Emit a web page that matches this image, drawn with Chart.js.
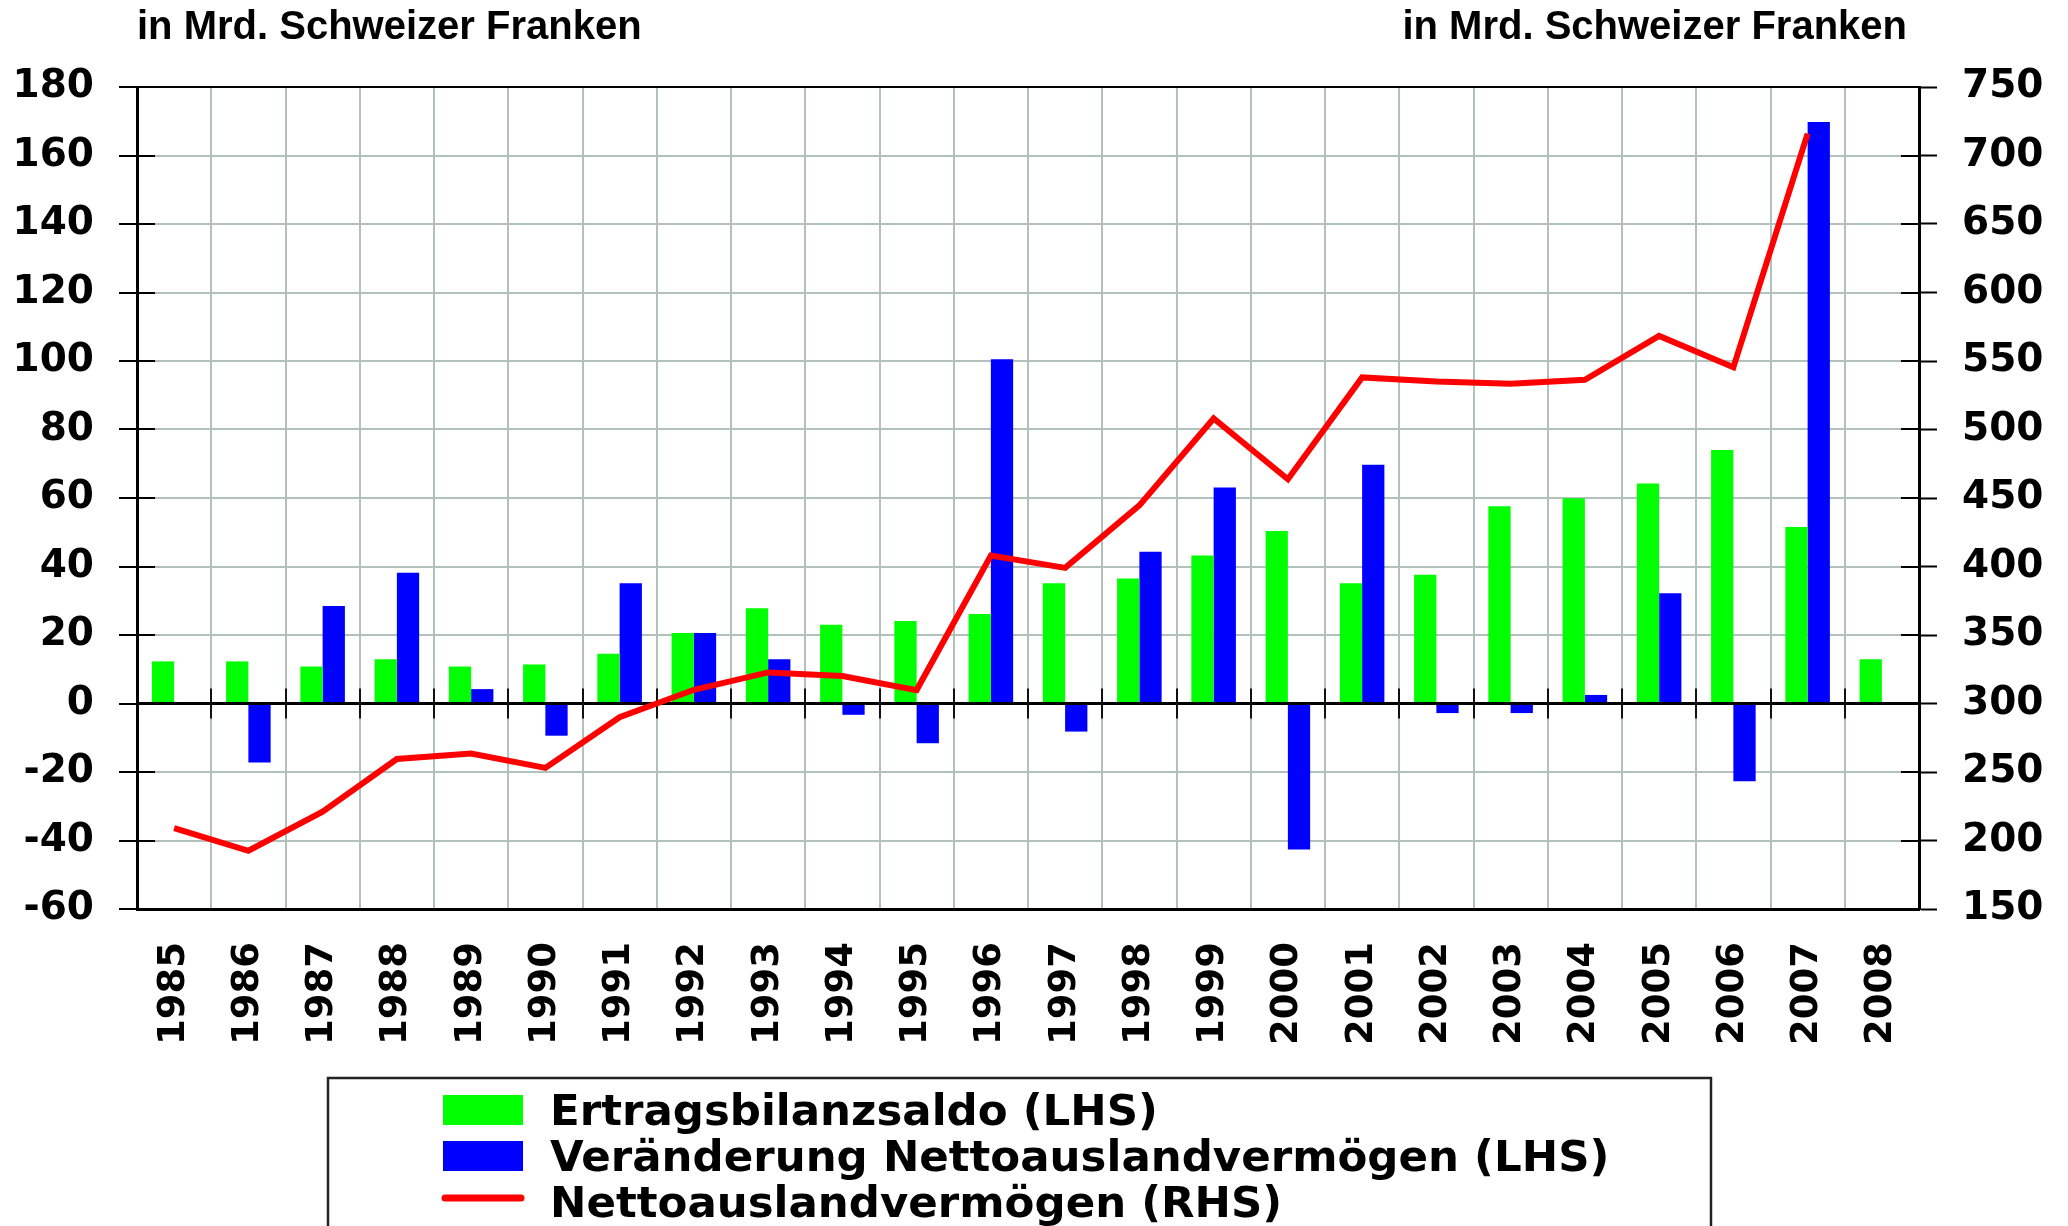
<!DOCTYPE html>
<html>
<head>
<meta charset="utf-8">
<script src="https://cdn.jsdelivr.net/npm/chart.js@4.4.1/dist/chart.umd.min.js"></script>
<style>
  body { margin: 0; background: #fff; }
  #wrap { width: 2068px; height: 1226px; position: relative; }
</style>
</head>
<body>
<div id="wrap"><canvas id="chart"></canvas></div>
<script>
// years on the x axis
const years = ['1985', '1986', '1987', '1988', '1989', '1990', '1991', '1992', '1993', '1994', '1995', '1996',
               '1997', '1998', '1999', '2000', '2001', '2002', '2003', '2004', '2005', '2006', '2007', '2008'];

// Ertragsbilanzsaldo, Mrd. CHF (left axis)
const ertragsbilanz = [12.3, 12.3, 10.8, 12.9, 10.8, 11.4, 14.5, 20.6, 27.8, 23.0, 24.1, 26.1,
                       35.1, 36.5, 43.2, 50.4, 35.1, 37.6, 57.6, 59.9, 64.2, 74.0, 51.5, 12.9];

// Veränderung Nettoauslandvermögen, Mrd. CHF (left axis)
const veraenderung = [null, -17.2, 28.5, 38.2, 4.2, -9.4, 35.1, 20.6, 12.9, -3.3, -11.6, 100.5,
                      -8.2, 44.3, 63.1, -42.6, 69.7, -2.8, -2.8, 2.5, 32.2, -22.7, 169.8, null];

// Nettoauslandvermögen, Mrd. CHF (right axis)
const nettoauslandverm = [209, 192.5, 221, 259.5, 263.5, 253, 290, 310, 322.7, 320, 309.8, 408,
                          399, 444.6, 508, 463.7, 538, 535, 533.4, 536.3, 568.3, 545.4, 716, null];

const leftTicks = { min: -60, max: 180, step: 20 };
const rightTicks = { min: 150, max: 750, step: 50 };

const unitLabel = 'in Mrd. Schweizer Franken';
const gridGray = '#b3c1bc';
const tickFont = { family: 'DejaVu Sans', weight: 'bold', size: 39 };

// titles above both axes, inner tick marks, zero line and the framed legend
const extras = {
    id: 'extras',
    afterDatasetDraw(chart, args) {
        if (args.index !== 0) return;
        // zero line with small marks at the category borders
        const ctx = chart.ctx;
        const area = chart.chartArea;
        const y0 = chart.scales.y.getPixelForValue(0);
        const x = chart.scales.x;
        ctx.save();
        ctx.strokeStyle = '#000';
        ctx.lineWidth = 3;
        ctx.beginPath();
        ctx.moveTo(area.left, y0);
        ctx.lineTo(area.right, y0);
        ctx.stroke();
        ctx.lineWidth = 2;
        ctx.strokeStyle = '#111';
        for (let i = 1; i < years.length; i++) {
            const gx = Math.round((x.getPixelForValue(i - 1) + x.getPixelForValue(i)) / 2);
            ctx.beginPath();
            ctx.moveTo(gx, y0 - 15);
            ctx.lineTo(gx, y0 + 15);
            ctx.stroke();
        }
        ctx.restore();
    },
    afterDraw(chart) {
        const ctx = chart.ctx;
        const area = chart.chartArea;
        ctx.save();

        // tick marks reaching into the plot
        ctx.strokeStyle = '#000';
        ctx.lineWidth = 2;
        chart.scales.y.ticks.forEach(t => {
            const py = Math.round(chart.scales.y.getPixelForValue(t.value));
            ctx.beginPath();
            ctx.moveTo(area.left, py);
            ctx.lineTo(area.left + 18, py);
            ctx.stroke();
        });
        chart.scales.y1.ticks.forEach(t => {
            const py = Math.round(chart.scales.y1.getPixelForValue(t.value));
            ctx.beginPath();
            ctx.moveTo(area.right - 18, py);
            ctx.lineTo(area.right, py);
            ctx.stroke();
        });

        // unit labels
        ctx.fillStyle = '#000';
        ctx.font = 'bold 40px "Liberation Sans", Arial, sans-serif';
        ctx.textBaseline = 'alphabetic';
        ctx.textAlign = 'left';
        ctx.fillText(unitLabel, 137, 39);
        ctx.textAlign = 'right';
        ctx.fillText(unitLabel, 1907, 39);

        // legend box
        ctx.strokeStyle = '#222';
        ctx.lineWidth = 2.5;
        ctx.strokeRect(328, 1078, 1383, 200);

        const ds = chart.data.datasets;
        const rows = [1095, 1141, 1187];
        ctx.font = 'bold 43.5px "DejaVu Sans", sans-serif';
        ctx.textAlign = 'left';
        ds.forEach((d, i) => {
            const top = rows[i];
            if (d.type === 'line') {
                ctx.strokeStyle = d.borderColor;
                ctx.lineWidth = 7;
                ctx.lineCap = 'round';
                ctx.beginPath();
                ctx.moveTo(445, top + 11);
                ctx.lineTo(521, top + 11);
                ctx.stroke();
            } else {
                ctx.fillStyle = d.backgroundColor;
                ctx.fillRect(443, top, 80, 30);
            }
            ctx.fillStyle = '#000';
            ctx.fillText(d.label, 550, top + 30);
        });
        ctx.restore();
    }
};

const ctx = document.getElementById('chart').getContext('2d');
new Chart(ctx, {
    data: {
        labels: years,
        datasets: [{
            type: 'bar',
            label: 'Ertragsbilanzsaldo (LHS)',
            data: ertragsbilanz,
            backgroundColor: '#00ff00',
            yAxisID: 'y',
            order: 1
        }, {
            type: 'bar',
            label: 'Veränderung Nettoauslandvermögen (LHS)',
            data: veraenderung,
            backgroundColor: '#0000ff',
            yAxisID: 'y',
            order: 2
        }, {
            type: 'line',
            label: 'Nettoauslandvermögen (RHS)',
            data: nettoauslandverm,
            borderColor: '#ff0000',
            borderWidth: 6,
            pointRadius: 0,
            tension: 0,
            yAxisID: 'y1',
            order: 0
        }]
    },
    options: {
        responsive: true,
        maintainAspectRatio: false,
        animation: false,
        layout: { padding: { top: 87, left: 0, right: 0, bottom: 0 } },
        datasets: {
            bar: { barPercentage: 1.0, categoryPercentage: 0.6 }
        },
        plugins: {
            legend: { display: false },
            title: { display: false },
            tooltip: { enabled: false }
        },
        scales: {
            x: {
                offset: true,
                grid: { offset: true, color: gridGray, lineWidth: 2, drawTicks: false },
                border: { color: '#000', width: 3 },
                ticks: {
                    color: '#000',
                    font: { family: 'DejaVu Sans', weight: 'bold', size: 37 },
                    minRotation: 90,
                    maxRotation: 90,
                    autoSkip: false,
                    padding: 33
                },
                afterFit(scale) { scale.height = 317; }
            },
            y: {
                position: 'left',
                min: leftTicks.min,
                max: leftTicks.max,
                ticks: {
                    stepSize: leftTicks.step,
                    color: '#000',
                    font: tickFont,
                    padding: 25
                },
                grid: {
                    color: c => (c.tick && c.tick.value === leftTicks.max) ? '#000' : gridGray,
                    lineWidth: 2,
                    tickColor: '#000',
                    tickLength: 18,
                    tickWidth: 2
                },
                border: { color: '#000', width: 3 },
                afterFit(scale) { scale.width = 137; }
            },
            y1: {
                position: 'right',
                min: rightTicks.min,
                max: rightTicks.max,
                ticks: {
                    stepSize: rightTicks.step,
                    color: '#000',
                    font: tickFont,
                    padding: 25
                },
                grid: {
                    drawOnChartArea: false,
                    tickColor: '#000',
                    tickLength: 18,
                    tickWidth: 2
                },
                border: { color: '#000', width: 3 },
                afterFit(scale) { scale.width = 149; }
            }
        }
    },
    plugins: [extras]
});
</script>
</body>
</html>
